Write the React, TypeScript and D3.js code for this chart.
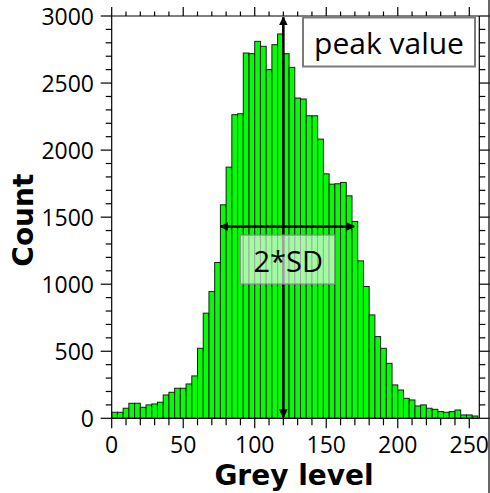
import React from "react";
import * as d3 from "d3";

// ---- data ----
const binStart: number[] = d3.range(0, 256, 4);
const counts: number[] = [
  45, 45, 75, 112, 112, 82, 100, 107, 120, 174, 194, 224, 224, 256, 316, 522,
  784, 945, 1162, 1592, 1873, 2264, 2271, 2724, 2719, 2811, 2774, 2600, 2786, 2866, 2719, 2617,
  2388, 2381, 2256, 2256, 2082, 1823, 1746, 1749, 1759, 1659, 1468, 1174, 983, 771, 609, 522,
  410, 249, 211, 149, 137, 92, 100, 75, 67, 50, 45, 50, 62, 25, 25, 17,
];
const binWidth = 4;
const xTicks: number[] = [0, 50, 100, 150, 200, 250];
const yTicks: number[] = [0, 500, 1000, 1500, 2000, 2500, 3000];
const peakGrey = 120;
const peakTop = 2990;
const sdLow = 76;
const sdHigh = 169.5;
const sdCount = 1430;
const xLabel = "Grey level";
const yLabel = "Count";
const peakText = "peak value";
const sdText = "2*SD";

const W = 490;
const H = 493;
const left = 111.7;
const right = 479.3;
const top = 16;
const bottom = 418.3;

const tickFont = "'Open Sans', 'DejaVu Sans', sans-serif";
const titleFont = "'DejaVu Sans', sans-serif";

export default function App() {
  const x = d3.scaleLinear().domain([0, 257]).range([left, right]);
  const y = d3.scaleLinear().domain([0, 3000]).range([bottom, top]);
  const xMinor = d3.range(0, 257, 10);
  const yMinor = d3.range(0, 3001, 100);

  const px = x(peakGrey);
  const sdY = y(sdCount);
  const sdMid = (x(sdLow) + x(sdHigh)) / 2;

  return (
    <svg
      width={W}
      height={H}
      style={{ position: "absolute", left: 0, top: 0, background: "#fff" }}
    >
      <defs>
        <marker id="arr" viewBox="0 0 10 10" refX="9" refY="5" markerWidth="3.4" markerHeight="3.4" orient="auto-start-reverse" markerUnits="strokeWidth">
          <path d="M0,0 L10,5 L0,10 z" fill="#000" />
        </marker>
      </defs>

      {/* bars */}
      <g>
        {counts.map((c, i) => (
          <rect
            key={i}
            x={x(binStart[i])}
            y={y(c)}
            width={x(binStart[i] + binWidth) - x(binStart[i])}
            height={bottom - y(c)}
            fill="#00ff00"
            stroke="#1a1a1a"
            strokeWidth={1}
          />
        ))}
      </g>

      {/* frame */}
      <g stroke="#000" strokeWidth={1.2} fill="none">
        <line x1={left} x2={right} y1={top} y2={top} />
        <line x1={left} x2={right} y1={bottom} y2={bottom} />
        <line x1={left} x2={left} y1={top} y2={bottom} />
        <line x1={right} x2={right} y1={top} y2={bottom} />
      </g>
      <line x1={489} x2={489} y1={0} y2={H} stroke="#000" strokeWidth={1.2} />

      {/* x ticks (bottom & top) */}
      <g stroke="#000" strokeWidth={1.2}>
        {xMinor.map((t) => {
          const major = t % 50 === 0;
          return (
            <g key={t}>
              <line x1={x(t)} x2={x(t)} y1={bottom} y2={bottom + (major ? 10 : 7)} />
              <line x1={x(t)} x2={x(t)} y1={top} y2={top - (major ? 9 : 4.5)} />
            </g>
          );
        })}
        {yMinor.map((t) => {
          const major = t % 500 === 0;
          return (
            <g key={t}>
              <line x1={left} x2={left - (major ? 11 : 6)} y1={y(t)} y2={y(t)} />
              <line x1={right} x2={right + (major ? 10 : 6)} y1={y(t)} y2={y(t)} />
            </g>
          );
        })}
      </g>

      {/* tick labels */}
      <g fontFamily={tickFont} fontSize={23} fill="#000">
        {xTicks.map((t) => (
          <text key={t} x={x(t)} y={453} textAnchor="middle">
            {t}
          </text>
        ))}
        {yTicks.map((t) => (
          <text key={t} x={94} y={y(t) + 9} textAnchor="end">
            {t}
          </text>
        ))}
      </g>

      {/* axis titles */}
      <text x={294} y={485} textAnchor="middle" fontFamily={titleFont} fontWeight="bold" fontSize={28} fill="#000">
        {xLabel}
      </text>
      <text
        transform={`translate(33,${(top + bottom) / 2 + 3}) rotate(-90)`}
        textAnchor="middle"
        fontFamily={titleFont}
        fontWeight="bold"
        fontSize={28}
        fill="#000"
      >
        {yLabel}
      </text>

      {/* peak vertical line */}
      <line
        x1={px}
        x2={px}
        y1={y(0) - 1}
        y2={y(peakTop)}
        stroke="#000"
        strokeWidth={2.6}
        markerStart="url(#arr)"
        markerEnd="url(#arr)"
      />

      {/* 2*SD box */}
      <rect
        x={sdMid - 47}
        y={sdY + 8.5}
        width={94.5}
        height={49}
        fill="rgba(255,255,255,0.62)"
        stroke="#8a8a8a"
        strokeWidth={1.2}
      />
      <text
        x={sdMid + 1}
        y={sdY + 45.5}
        textAnchor="middle"
        fontFamily={tickFont}
        fontSize={29}
        fill="#000"
      >
        {sdText}
      </text>

      {/* SD horizontal line */}
      <line
        x1={x(sdLow)}
        x2={x(sdHigh)}
        y1={sdY}
        y2={sdY}
        stroke="#000"
        strokeWidth={2.6}
        markerStart="url(#arr)"
        markerEnd="url(#arr)"
      />

      {/* peak value box */}
      <rect x={303} y={17.5} width={172} height={49} fill="#fff" stroke="#7a7a7a" strokeWidth={2} />
      <text x={389} y={54} textAnchor="middle" fontFamily={tickFont} fontSize={30} fill="#000">
        {peakText}
      </text>
    </svg>
  );
}
